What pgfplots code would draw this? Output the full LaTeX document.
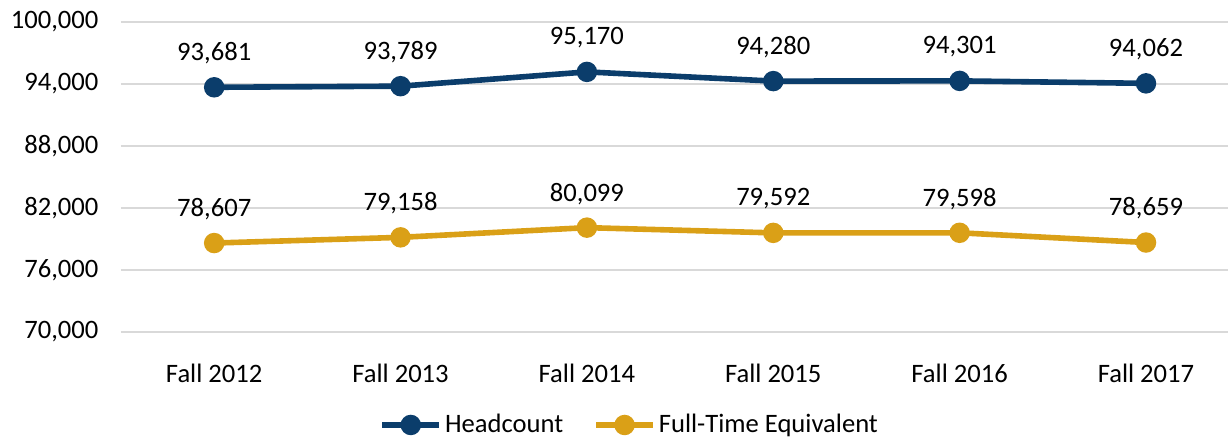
\documentclass[border=0pt]{standalone}
\usepackage{pgfplots}
\pgfplotsset{compat=1.18}
\usepackage{fontspec}
\setmainfont{Carlito}
\definecolor{navy}{HTML}{0B3D6B}
\definecolor{gold}{HTML}{DAA017}
\definecolor{gridc}{HTML}{D9D9D9}
\begin{document}
\begin{tikzpicture}[font=\fontsize{13.3}{15}\selectfont]
\path[use as bounding box] (0,0) rectangle (614pt,218.5pt);
\begin{axis}[
  at={(60.5pt,52.5pt)}, anchor=south west,
  scale only axis, width=553.5pt, height=155pt,
  xmin=-0.5, xmax=5.44, ymin=70000, ymax=100000,
  ytick={70000,76000,82000,88000,94000,100000},
  yticklabels={{70,000},{76,000},{82,000},{88,000},{94,000},{100,000}},
  xtick={0,1,2,3,4,5},
  xticklabels={Fall 2012,Fall 2013,Fall 2014,Fall 2015,Fall 2016,Fall 2017},
  scaled y ticks=false,
  axis line style={draw=none},
  major tick length=0pt,
  ymajorgrids, grid style={gridc, line width=1pt},
  yticklabel style={xshift=-7.8pt},
  xticklabel style={yshift=-12.5pt},
  clip=false,
  point meta=explicit symbolic,
  nodes near coords,
  every node near coord/.append style={anchor=center, yshift=17pt, text=black},
  legend columns=2,
  legend style={at={(0.46,-0.30)}, anchor=center, draw=none, fill=none,
    nodes={inner xsep=1.5pt},
    /tikz/every even column/.append style={column sep=13.5pt}},
  legend image code/.code={\draw[#1,mark repeat=2,mark phase=2] plot coordinates {(0pt,0pt)(14.25pt,0pt)(28.5pt,0pt)};},
]
\addplot[navy, line width=2.8pt, mark=*, mark size=3.7pt] table[meta=lab] {
x y lab
0 93681 93,681
1 93789 93,789
2 95170 95,170
3 94280 94,280
4 94301 94,301
5 94062 94,062
};
\addlegendentry{Headcount}
\addplot[gold, line width=2.8pt, mark=*, mark size=3.7pt] table[meta=lab] {
x y lab
0 78607 78,607
1 79158 79,158
2 80099 80,099
3 79592 79,592
4 79598 79,598
5 78659 78,659
};
\addlegendentry{Full-Time Equivalent}
\end{axis}
\end{tikzpicture}
\end{document}
